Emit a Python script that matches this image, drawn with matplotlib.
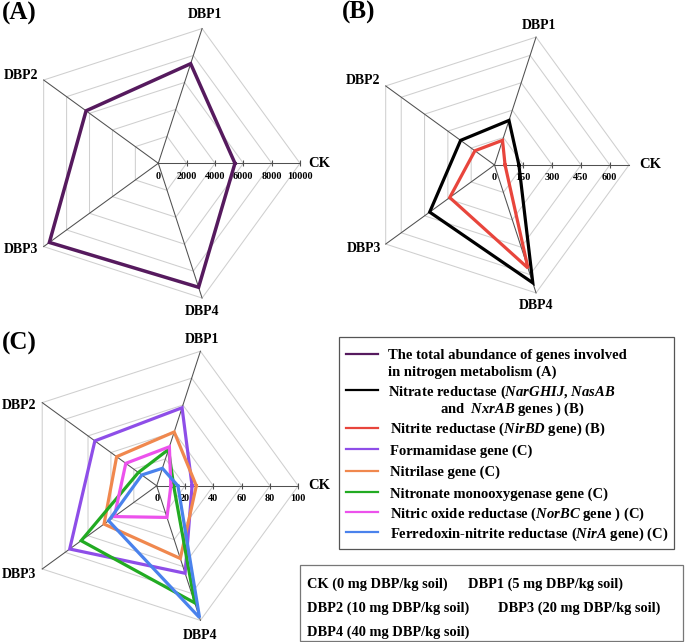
import numpy as np
import matplotlib
matplotlib.use('Agg')
import matplotlib.pyplot as plt
from matplotlib.lines import Line2D
from matplotlib.patches import Rectangle

plt.rcParams['font.family'] = ['Liberation Serif', 'DejaVu Serif']
plt.rcParams['font.weight'] = 'bold'
plt.rcParams['mathtext.fontset'] = 'custom'
plt.rcParams['mathtext.it'] = 'Liberation Serif:italic:bold'
plt.rcParams['mathtext.rm'] = 'Liberation Serif:bold'
plt.rcParams['mathtext.bf'] = 'Liberation Serif:bold'

# ---------------- data ----------------
categories = ['CK', 'DBP1', 'DBP2', 'DBP3', 'DBP4']

# Panel A
total_abundance = [5410, 7390, 6300, 9500, 9200]
ticks_A = [0, 2000, 4000, 6000, 8000, 10000]
max_A = 10000

# Panel B
nitrate_reductase = [127, 244, 218, 417, 645]
nitrite_reductase = [55, 135, 126, 288, 564]
ticks_B = [0, 150, 300, 450, 600]
max_B = 700

# Panel C
formamidase = [25, 58, 54, 76, 65]
nitrilase = [28, 40, 35, 46, 54]
nitronate = [12, 27, 16, 66, 87]
nitric_oxide = [10, 29, 27, 37, 23.5]
ferredoxin = [15, 13, 13, 42, 98]
ticks_C = [0, 20, 40, 60, 80, 100]
max_C = 100

legend_labels = [
    "The total abundance of genes involved",
    "in nitrogen metabolism (A)",
    r"Nitrate reductase ($\mathit{NarGHIJ}$, $\mathit{NasAB}$",
    r"and  $\mathit{NxrAB}$ genes ) (B)",
    r"Nitrite reductase ($\mathit{NirBD}$ gene) (B)",
    "Formamidase gene (C)",
    "Nitrilase gene (C)",
    "Nitronate monooxygenase gene (C)",
    r"Nitric oxide reductase ($\mathit{NorBC}$ gene ) (C)",
    r"Ferredoxin-nitrite reductase ($\mathit{NirA}$ gene) (C)",
]

treatment_labels = [
    "CK (0 mg DBP/kg soil)", "DBP1 (5 mg DBP/kg soil)",
    "DBP2 (10 mg DBP/kg soil)", "DBP3 (20 mg DBP/kg soil)",
    "DBP4 (40 mg DBP/kg soil)",
]

colors = {
    'total': '#561a5e', 'nitrate': '#000000', 'nitrite': '#e8453c',
    'formamidase': '#8e4ee8', 'nitrilase': '#f0884e', 'nitronate': '#22ab22',
    'nitric': '#ec52ec', 'ferredoxin': '#4a82ec',
}

# ---------------- figure ----------------
W, H = 685, 642
fig = plt.figure(figsize=(W / 100, H / 100), dpi=100)

angles = np.deg2rad(np.arange(len(categories)) * 72.0)
closed = np.append(angles, angles[0])


def fx(x):
    return x / W


def fy(y):
    return 1 - y / H


def rect_from(cx, cy, R):
    return [(cx - R) / W, (H - cy - R) / H, 2 * R / W, 2 * R / H]


def radar(rect, rmax, ticks, label_offsets):
    ax = fig.add_axes(rect, projection='polar')
    ax.set_ylim(0, rmax)
    ax.grid(False)
    ax.set_xticks([])
    ax.set_yticks([])
    ax.spines['polar'].set_visible(False)
    ax.patch.set_visible(False)
    rings = [t for t in ticks if t > 0]
    if rmax not in rings:
        rings.append(rmax)
    for r in rings:
        ax.plot(closed, [r] * len(closed), color='#cfcfcf', lw=0.75, clip_on=False, zorder=1)
    for a in angles:
        ax.plot([a, a], [0, rmax], color='#505050', lw=0.75, clip_on=False, zorder=2)
    tv = [t for t in ticks if t > 0]
    ax.plot(np.zeros(len(tv)), tv, ls='none', marker='|', ms=4.5, mew=0.8,
            color='#505050', clip_on=False, zorder=2)
    for t in ticks:
        ax.annotate(str(t), xy=(0, t), xytext=(0, -13), textcoords='offset pixels',
                    ha='center', va='center', fontsize=7.3, fontweight='bold',
                    annotation_clip=False)
    for i, (name, a) in enumerate(zip(categories, angles)):
        dx, dy, ha = label_offsets[i]
        ax.annotate(name, xy=(a, rmax), xytext=(dx, dy), textcoords='offset pixels',
                    ha=ha, va='center', fontsize=10.5 if name == 'CK' else 10,
                    fontweight='bold', annotation_clip=False)
    return ax


def series(ax, vals, color, lw=2.3):
    ln, = ax.plot(closed, list(vals) + [vals[0]], color=color, lw=lw,
                  solid_joinstyle='miter', clip_on=False, zorder=3)
    return ln


offs_A = [(8, 0, 'left'), (3, 14, 'center'), (-5, 5, 'right'), (-5, -3, 'right'), (0, -13, 'center')]
offs_B = [(10, 0, 'left'), (3, 12, 'center'), (-5, 5, 'right'), (-5, -4, 'right'), (0, -13, 'center')]
offs_C = [(10, 0, 'left'), (2, 12, 'center'), (-6, -3, 'right'), (-6, -6, 'right'), (0, -15, 'center')]

axA = radar(rect_from(158.3, 163.3, 141.7), max_A, ticks_A, offs_A)
axB = radar(rect_from(494.5, 165.0, 134.5), max_B, ticks_B, offs_B)
axC = radar(rect_from(156.7, 485.8, 141.5), max_C, ticks_C, offs_C)

h_total = series(axA, total_abundance, colors['total'], lw=2.5)
h_nitrate = series(axB, nitrate_reductase, colors['nitrate'])
h_nitrite = series(axB, nitrite_reductase, colors['nitrite'])
h_form = series(axC, formamidase, colors['formamidase'])
h_nitrilase = series(axC, nitrilase, colors['nitrilase'])
h_nitronate = series(axC, nitronate, colors['nitronate'])
h_nitric = series(axC, nitric_oxide, colors['nitric'])
h_ferr = series(axC, ferredoxin, colors['ferredoxin'])

# panel letters
fig.text(fx(1.5), fy(13.5), '(A)', fontsize=18, fontweight='bold', ha='left', va='center')
fig.text(fx(341.5), fy(12.5), '(B)', fontsize=18, fontweight='bold', ha='left', va='center')
fig.text(fx(1.5), fy(343.5), '(C)', fontsize=18, fontweight='bold', ha='left', va='center')

# ---------------- legend (drawn as a framed box) ----------------
fig.patches.append(Rectangle((fx(339.3), fy(549.3)), fx(674) - fx(339.3), fy(336.7) - fy(549.3),
                             transform=fig.transFigure, fill=False, edgecolor='#555555',
                             linewidth=0.9))
handles = [h_total, None, h_nitrate, None, h_nitrite, h_form, h_nitrilase,
           h_nitronate, h_nitric, h_ferr]
row_y = [354.3, 371.0, 390.7, 408.3, 428.3, 449.7, 471.5, 493.0, 513.0, 533.0]
text_x = [387.7, 387.7, 387.7, 440.0, 389.5, 389.5, 389.5, 389.5, 389.5, 389.5]
for h, y, x, lab in zip(handles, row_y, text_x, legend_labels):
    if h is not None:
        fig.add_artist(Line2D([fx(346), fx(377.5)], [fy(y - 0.8), fy(y - 0.8)],
                              transform=fig.transFigure, color=h.get_color(), lw=1.6))
    fig.text(fx(x), fy(y + 4.8), lab, fontsize=10.5, fontweight='bold',
             ha='left', va='baseline')

# ---------------- treatment box ----------------
fig.patches.append(Rectangle((fx(300), fy(640.8)), fx(682.5) - fx(300), fy(565) - fy(640.8),
                             transform=fig.transFigure, fill=False, edgecolor='#777777',
                             linewidth=0.9))
pos = [(306.7, 583.3), (468.3, 583.3), (306.7, 606.7), (498.3, 606.7), (306.7, 631.0)]
for (x, y), t in zip(pos, treatment_labels):
    fig.text(fx(x), fy(y + 4.8), t, fontsize=10.4, fontweight='bold', ha='left', va='baseline')

fig.savefig('out.png', dpi=100)
